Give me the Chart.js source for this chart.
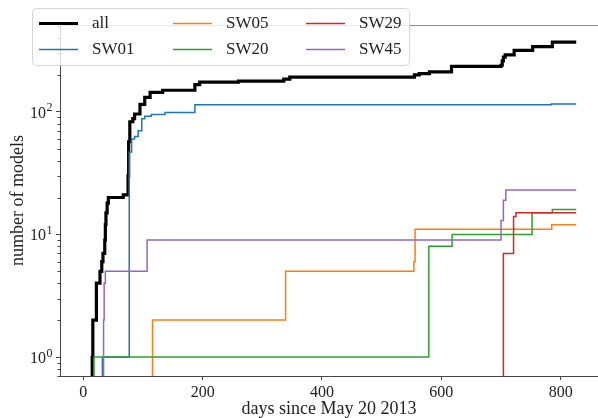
<!DOCTYPE html>
<html lang="en">
<head>
<meta charset="UTF-8">
<title>Number of models</title>
<script src="https://cdn.jsdelivr.net/npm/chart.js"></script>
<style>
  html, body { margin: 0; padding: 0; background: #fff; overflow: hidden; }
  #wrap { width: 598px; height: 418px; }
</style>
</head>
<body>
<div id="wrap"><canvas id="chart" width="598" height="418"></canvas></div>
<script>
// series (days since May 20 2013 -> cumulative number of models)
const seriesNames  = ['all', 'SW01', 'SW05', 'SW20', 'SW29', 'SW45'];
const seriesColors = ['#000000', '#1f77b4', '#ff7f0e', '#2ca02c', '#d62728', '#9467bd'];
const seriesWidths = [3.2, 1.5, 1.5, 1.5, 1.5, 1.5];

const allDays    = [15, 15, 16, 22, 28, 31, 33, 36, 37, 38, 40, 42, 67, 75, 76, 78, 83, 86, 95, 103,
                    112, 133, 187, 195, 260, 336, 346, 555, 563, 580, 617, 700, 702, 704, 707, 722, 753, 786, 826];
const allCounts  = [0, 1, 2, 4, 5, 6, 7, 9, 12, 15, 18, 20, 21, 30, 57, 83, 88, 96, 115, 131,
                    144, 150, 167, 175, 178, 185, 192, 200, 205, 212, 235, 240, 260, 280, 292, 317, 341, 371, 371];

const sw01Days   = [32, 32, 77, 81, 86, 92, 98, 103, 114, 137, 187, 784, 826];
const sw01Counts = [0, 1, 47, 60, 63, 70, 88, 92, 95, 99, 114, 116, 116];

const sw05Days   = [116, 116, 339, 554, 556, 785, 826];
const sw05Counts = [0, 2, 5, 6, 11, 12, 12];

const sw20Days   = [18, 18, 579, 618, 752, 786, 826];
const sw20Counts = [0, 1, 8, 10, 15, 16, 16];

const sw29Days   = [704, 704, 721, 725, 826];
const sw29Counts = [0, 7, 14, 15, 15];

const sw45Days   = [33, 34, 35, 37, 107, 700, 704, 708, 826];
const sw45Counts = [0, 2, 4, 5, 9, 13, 19, 23, 23];

const xTicks = [0, 200, 400, 600, 800];
const yTicks = [1, 10, 100];

const FLOOR = 0.1; // zero models can't go on a log axis, push it below the frame

const allSeries = [
  [allDays, allCounts], [sw01Days, sw01Counts], [sw05Days, sw05Counts],
  [sw20Days, sw20Counts], [sw29Days, sw29Counts], [sw45Days, sw45Counts]
];

const SERIF = '"Liberation Serif", "DejaVu Serif", serif';

const datasets = allSeries.map(function(s, i) {
  return {
    label: seriesNames[i],
    data: s[0].map((d, j) => ({ x: d, y: s[1][j] > 0 ? s[1][j] : FLOOR })),
    borderColor: seriesColors[i],
    borderWidth: seriesWidths[i],
    stepped: 'before',
    pointRadius: 0,
    fill: false,
    borderJoinStyle: 'miter',
    order: allSeries.length - i   // later series on top, like the original
  };
});

// top spine, minor log ticks, 10^n labels and the legend box
const decorations = {
  id: 'decorations',
  afterDraw(chart) {
    const ctx = chart.ctx;
    const area = chart.chartArea;
    const y = chart.scales.y;
    ctx.save();

    ctx.strokeStyle = '#8c8c8c';
    ctx.lineWidth = 1;
    ctx.beginPath();
    ctx.moveTo(area.left, area.top + 0.5);
    ctx.lineTo(area.right, area.top + 0.5);
    ctx.stroke();

    ctx.strokeStyle = '#444';
    for (let k = -1; k <= 2; k++) {
      for (let m = 2; m <= 9; m++) {
        const v = m * Math.pow(10, k);
        if (v < y.min || v > y.max) continue;
        const py = Math.round(y.getPixelForValue(v)) + 0.5;
        ctx.beginPath();
        ctx.moveTo(area.left - 2.5, py);
        ctx.lineTo(area.left, py);
        ctx.stroke();
      }
    }

    ctx.fillStyle = '#222';
    yTicks.forEach(function(v) {
      const py = y.getPixelForValue(v);
      const exp = String(Math.round(Math.log10(v)));
      ctx.font = '16px ' + SERIF;
      ctx.textAlign = 'right';
      ctx.textBaseline = 'alphabetic';
      ctx.fillText('10', 46, py + 6);
      ctx.font = '12px ' + SERIF;
      ctx.textAlign = 'left';
      ctx.fillText(exp, 46.5, py - 0.5);
    });

    // legend, 3 columns filled top to bottom
    const bx = 32.5, by = 8.5, bw = 377, bh = 57, r = 4;
    ctx.beginPath();
    ctx.moveTo(bx + r, by);
    ctx.arcTo(bx + bw, by, bx + bw, by + bh, r);
    ctx.arcTo(bx + bw, by + bh, bx, by + bh, r);
    ctx.arcTo(bx, by + bh, bx, by, r);
    ctx.arcTo(bx, by, bx + bw, by, r);
    ctx.closePath();
    ctx.fillStyle = 'rgba(255,255,255,0.8)';
    ctx.fill();
    ctx.strokeStyle = '#d6d6d6';
    ctx.lineWidth = 1;
    ctx.stroke();

    const colX = [39, 173, 306];
    const rowY = [23.5, 49.5];
    ctx.font = '17px ' + SERIF;
    ctx.textAlign = 'left';
    ctx.textBaseline = 'middle';
    chart.data.datasets.forEach(function(ds, i) {
      const cx = colX[Math.floor(i / 2)];
      const cy = rowY[i % 2];
      ctx.strokeStyle = ds.borderColor;
      ctx.lineWidth = ds.borderWidth;
      ctx.beginPath();
      ctx.moveTo(cx, cy);
      ctx.lineTo(cx + 39, cy);
      ctx.stroke();
      ctx.fillStyle = '#222';
      ctx.fillText(ds.label, cx + 53, cy);
    });

    ctx.restore();
  }
};

new Chart(document.getElementById('chart'), {
  type: 'line',
  data: { datasets: datasets },
  options: {
    responsive: false,
    animation: false,
    devicePixelRatio: 1,
    layout: { padding: { top: 25, right: 0, bottom: 0, left: 0 } },
    plugins: {
      legend: { display: false },
      tooltip: { enabled: false }
    },
    scales: {
      x: {
        type: 'linear',
        min: -39,
        max: 862.5,
        afterBuildTicks: function(scale) { scale.ticks = xTicks.map(v => ({ value: v })); },
        afterFit: function(scale) { scale.height = 42; },
        grid: { display: true, drawOnChartArea: false, drawTicks: true, tickLength: 4, color: '#444' },
        border: { display: true, color: '#444', width: 1 },
        ticks: {
          color: '#222',
          padding: 3,
          maxRotation: 0,
          font: { family: SERIF, size: 16 }
        },
        title: {
          display: true,
          text: 'days since May 20 2013',
          color: '#222',
          padding: { top: 0, bottom: 0 },
          font: { family: SERIF, size: 18, lineHeight: 1 }
        }
      },
      y: {
        type: 'logarithmic',
        min: 0.747,
        max: 511,
        afterBuildTicks: function(scale) { scale.ticks = yTicks.map(v => ({ value: v, major: true })); },
        afterFit: function(scale) { scale.width = 60; },
        grid: { display: true, drawOnChartArea: false, drawTicks: true, tickLength: 4, color: '#444' },
        border: { display: true, color: '#444', width: 1 },
        ticks: { display: false },
        title: {
          display: true,
          text: 'number of models',
          color: '#222',
          padding: { top: 9, bottom: 0 },
          font: { family: SERIF, size: 18, lineHeight: 1 }
        }
      }
    }
  },
  plugins: [decorations]
});
</script>
</body>
</html>
